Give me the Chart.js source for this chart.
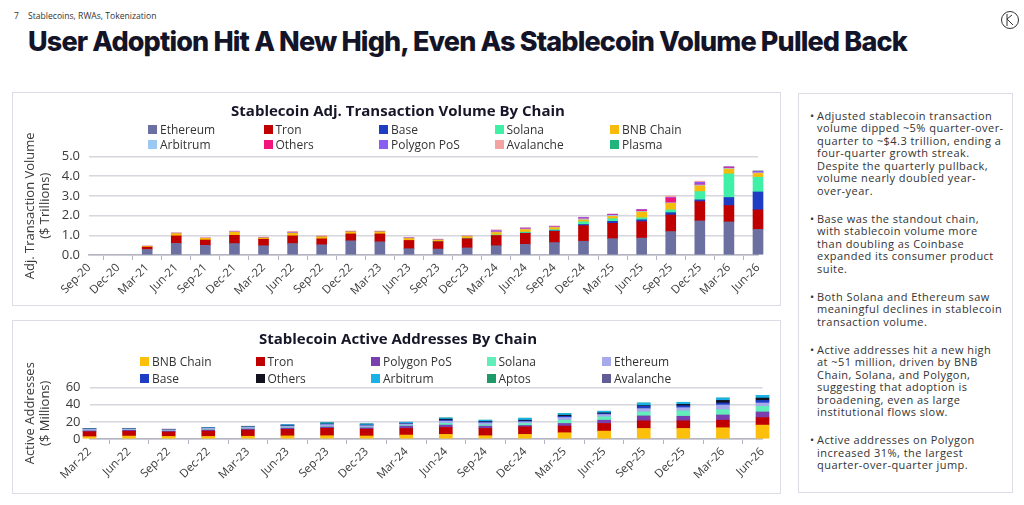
<!DOCTYPE html>
<html>
<head>
<meta charset="utf-8">
<script src="https://cdn.jsdelivr.net/npm/chart.js@4.4.1/dist/chart.umd.min.js"></script>
<style>
  html, body { margin: 0; padding: 0; background: #fff; }
  body { width: 1024px; height: 505px; position: relative; overflow: hidden; font-family: "Open Sans", sans-serif; color: #333; }
  .pagenum { position: absolute; left: 14px; top: 10px; font-size: 8.5px; color: #333; }
  .section { position: absolute; left: 28px; top: 10px; font-size: 8.6px; color: #333; }
  .logo { position: absolute; left: 1000px; top: 10px; }
  h1 { position: absolute; left: 28px; top: 25px; margin: 0; font-family: Inter, sans-serif; font-weight: 800; font-size: 27px; letter-spacing: -0.85px; color: #141428; white-space: nowrap; }
  .panel { position: absolute; border: 1.5px solid #dcdce6; box-sizing: border-box; }
  .ctitle { position: absolute; width: 500px; margin-left: -250px; left: 398px; text-align: center; font-size: 15px; line-height: 18px; font-weight: bold; color: #161628; }
  .legend { position: absolute; display: grid; grid-template-columns: repeat(5, 115.5px); font-size: 12px; color: #333; }
  .legend div { display: flex; align-items: center; height: 15px; white-space: nowrap; }
  .legend span.box { width: 9px; height: 9px; margin-right: 3px; display: inline-block; }
  .notes { position: absolute; left: 798px; top: 93px; width: 215px; height: 400px; box-sizing: border-box; border: 1.5px solid #dcdce6; }
  .notes ul { list-style: none; margin: 0; padding: 0; position: absolute; top: 15.5px; left: 18px; width: 192px; font-size: 11px; letter-spacing: 0.45px; line-height: 12.5px; color: #333; white-space: nowrap; }
  .notes li { position: relative; margin-bottom: 15.5px; }
  .notes li::before { content: "\2022"; position: absolute; left: -7px; top: 0; }
  canvas { position: absolute; }
</style>
</head>
<body>
<div class="pagenum">7</div>
<div class="section">Stablecoins, RWAs, Tokenization</div>
<svg class="logo" width="20" height="20" viewBox="0 0 20 20">
  <circle cx="10" cy="10" r="8.5" fill="none" stroke="#333" stroke-width="1"/>
  <path d="M7 4 L7 16 M7 9 L12 5 M7 9 L13 15" fill="none" stroke="#333" stroke-width="1"/>
</svg>
<h1>User Adoption Hit A New High, Even As Stablecoin Volume Pulled Back</h1>

<div class="panel" style="left:12px;top:92px;width:769px;height:214px;"></div>
<canvas id="volChart" style="left:14px;top:94px;" width="765" height="210"></canvas>
<div class="ctitle" style="top:101px;">Stablecoin Adj. Transaction Volume By Chain</div>
<div class="legend" id="volLegend" style="left:148px;top:122px;"></div>

<div class="panel" style="left:12px;top:320px;width:769px;height:174px;"></div>
<canvas id="addrChart" style="left:14px;top:322px;" width="765" height="170"></canvas>
<div class="ctitle" style="top:329px;">Stablecoin Active Addresses By Chain</div>
<div class="legend" id="addrLegend" style="left:140px;top:354px;row-gap:2px;"></div>

<div class="notes">
  <ul>
    <li>Adjusted stablecoin transaction<br>volume dipped ~5% quarter-over-<br>quarter to ~$4.3 trillion, ending a<br>four-quarter growth streak.<br>Despite the quarterly pullback,<br>volume nearly doubled year-<br>over-year.</li>
    <li>Base was the standout chain,<br>with stablecoin volume more<br>than doubling as Coinbase<br>expanded its consumer product<br>suite.</li>
    <li>Both Solana and Ethereum saw<br>meaningful declines in stablecoin<br>transaction volume.</li>
    <li>Active addresses hit a new high<br>at ~51 million, driven by BNB<br>Chain, Solana, and Polygon,<br>suggesting that adoption is<br>broadening, even as large<br>institutional flows slow.</li>
    <li>Active addresses on Polygon<br>increased 31%, the largest<br>quarter-over-quarter jump.</li>
  </ul>
</div>

<script>
// quarterly adjusted transaction volume, $ trillions
const volLabels = ['Sep-20','Dec-20','Mar-21','Jun-21','Sep-21','Dec-21','Mar-22','Jun-22','Sep-22','Dec-22','Mar-23','Jun-23',
                   'Sep-23','Dec-23','Mar-24','Jun-24','Sep-24','Dec-24','Mar-25','Jun-25','Sep-25','Dec-25','Mar-26','Jun-26'];
const volEthereum = [0,0,0.28,0.59,0.49,0.58,0.47,0.58,0.52,0.72,0.67,0.32,0.30,0.36,0.47,0.54,0.63,0.70,0.83,0.86,1.19,1.73,1.68,1.30];
const volTron     = [0,0,0.12,0.38,0.27,0.42,0.33,0.39,0.30,0.35,0.40,0.42,0.38,0.47,0.52,0.56,0.57,0.79,0.78,0.83,0.84,0.98,0.83,0.99];
const volBase     = [0,0,0,0,0,0,0,0,0,0,0,0,0,0,0,0.01,0.03,0.06,0.10,0.10,0.12,0.09,0.41,0.91];
const volSolana   = [0,0,0,0,0,0,0,0,0,0,0,0,0.01,0.02,0.03,0.05,0.05,0.14,0.13,0.10,0.14,0.42,1.20,0.75];
const volBnb      = [0,0,0.04,0.12,0.09,0.15,0.07,0.14,0.11,0.11,0.11,0.10,0.07,0.09,0.12,0.13,0.11,0.09,0.12,0.29,0.33,0.29,0.24,0.19];
const volArbitrum = [0,0,0,0,0,0,0,0,0,0,0,0,0,0,0.03,0.03,0.03,0.06,0.05,0.04,0.03,0.05,0.04,0.04];
const volOthers   = [0,0,0,0,0,0,0,0,0,0,0,0,0,0,0.02,0.02,0.02,0.03,0.03,0.06,0.24,0.04,0.03,0.02];
const volPolygon  = [0,0,0.01,0.02,0.01,0.02,0.02,0.03,0.02,0.02,0.02,0.03,0.02,0.02,0.05,0.03,0.02,0.04,0.03,0.03,0.03,0.09,0.05,0.05];
const volAvalanche= [0,0,0.01,0.02,0.02,0.05,0.02,0.06,0.03,0.02,0.02,0.03,0.03,0.02,0.04,0.02,0.01,0.01,0.01,0.01,0.08,0.06,0.01,0.01];
const volPlasma   = [0,0,0,0,0,0,0,0,0,0,0,0,0,0,0,0,0,0,0,0,0,0,0,0.01];
const volTicks = [0, 1, 2, 3, 4, 5];

// quarterly active addresses, millions
const addrLabels = ['Mar-22','Jun-22','Sep-22','Dec-22','Mar-23','Jun-23','Sep-23','Dec-23','Mar-24',
                    'Jun-24','Sep-24','Dec-24','Mar-25','Jun-25','Sep-25','Dec-25','Mar-26','Jun-26'];
const addrBnb      = [2.7,3.4,3.0,3.0,3.2,3.6,3.8,3.5,4.6,5.4,3.8,5.4,7.3,9.2,12.3,12.3,13.1,16.2];
const addrTron     = [5.8,5.7,5.2,6.3,7.2,7.6,8.6,8.0,7.7,8.1,8.5,8.8,7.7,8.9,8.9,8.9,8.8,8.8];
const addrPolygon  = [1.0,1.0,0.9,1.1,1.2,1.4,1.6,1.5,2.7,2.7,2.7,1.6,3.1,3.8,5.7,5.3,6.1,6.5];
const addrSolana   = [0.3,0.3,0.3,0.4,0.4,0.5,0.6,0.6,0.8,2.0,1.4,2.2,3.8,3.9,4.6,6.2,6.2,6.5];
const addrEthereum = [1.7,1.4,1.4,1.7,1.9,1.9,2.2,1.9,1.7,2.6,2.4,2.0,3.1,2.7,3.9,3.8,5.4,4.0];
const addrBase     = [0,0,0,0,0,0.2,0.3,0.2,0.3,1.2,1.0,1.0,1.5,1.0,2.7,2.3,2.4,3.0];
const addrOthers   = [0.2,0.2,0.2,0.2,0.3,0.3,0.4,0.5,0.3,1.1,0.6,0.9,1.2,0.9,0.8,1.6,3.0,2.7];
const addrArbitrum = [0.3,0.3,0.3,0.4,0.5,1.2,1.3,1.2,1.2,1.4,1.5,2.3,1.9,1.9,3.0,2.3,2.7,3.1];
const addrAptos    = [0,0,0,0,0,0,0.1,0.1,0.1,0.1,0.1,0.1,0.1,0.1,0.1,0.1,0.1,0.1];
const addrAvalanche= [0.3,0.2,0.2,0.2,0.2,0.2,0.2,0.2,0.2,0,0,0,0,0,0,0,0,0];
const addrTicks = [0, 20, 40, 60];

const FONT = '"Open Sans", sans-serif';
const TXT = '#3a3a3a';

function ds(label, data, color, thickness) {
    // zero quarters are left empty so no hairline bar gets drawn
    return { label: label, data: data.map(v => v === 0 ? null : v), backgroundColor: color,
             borderWidth: 0, barThickness: thickness, clip: false };
}

function baseOptions(yTitle, yTicks, yStep, decimals, yWidth, xHeight, padTop, padRight) {
    return {
        responsive: false,
        animation: false,
        layout: { padding: { left: 8, right: padRight, top: padTop, bottom: 0 } },
        plugins: {
            legend: { display: false },
            tooltip: { enabled: false }
        },
        scales: {
            x: {
                stacked: true,
                offset: false,
                grid: { display: true, drawOnChartArea: false, drawTicks: true, tickLength: 5, color: '#b4b4c2', lineWidth: 1 },
                border: { display: true, color: '#b4b4c2', width: 1.5 },
                ticks: { autoSkip: false, maxRotation: 45, minRotation: 45, color: TXT, font: { family: FONT, size: 11.5 }, padding: 1 },
                afterFit: (s) => { s.height = xHeight; }
            },
            y: {
                stacked: true,
                min: yTicks[0], max: yTicks[yTicks.length - 1],
                grid: { color: '#d6d6de', lineWidth: 1.5, drawTicks: false },
                border: { display: false },
                ticks: {
                    stepSize: yStep, autoSkip: false, color: TXT, padding: 9,
                    font: { family: FONT, size: 13 },
                    callback: (v) => v.toFixed(decimals)
                },
                title: { display: true, text: yTitle, color: TXT, font: { family: FONT, size: 13 }, padding: { top: 0, bottom: 2 } },
                afterFit: (s) => { s.width = yWidth; }
            }
        }
    };
}

function buildLegend(chart, id) {
    const el = document.getElementById(id);
    const items = chart.options.plugins.legend.labels.generateLabels(chart);
    items.forEach(it => {
        const d = document.createElement('div');
        const b = document.createElement('span');
        b.className = 'box';
        b.style.background = it.fillStyle;
        d.appendChild(b);
        d.appendChild(document.createTextNode(it.text));
        el.appendChild(d);
    });
}

const volChart = new Chart(document.getElementById('volChart'), {
    type: 'bar',
    data: {
        labels: volLabels,
        datasets: [
            ds('Ethereum', volEthereum, '#6c70a0', 10),
            ds('Tron', volTron, '#c00000', 10),
            ds('Base', volBase, '#1f3cc4', 10),
            ds('Solana', volSolana, '#3ff0a6', 10),
            ds('BNB Chain', volBnb, '#f7bb0c', 10),
            ds('Arbitrum', volArbitrum, '#9cc9f2', 10),
            ds('Others', volOthers, '#f0147c', 10),
            ds('Polygon PoS', volPolygon, '#8b5cf2', 10),
            ds('Avalanche', volAvalanche, '#f4a2a2', 10),
            ds('Plasma', volPlasma, '#1fb57c', 10)
        ]
    },
    options: baseOptions(['Adj. Transaction Volume', '($ Trillions)'], volTicks, 1, 1, 67, 49, 62.5, 21)
});
buildLegend(volChart, 'volLegend');

const addrChart = new Chart(document.getElementById('addrChart'), {
    type: 'bar',
    data: {
        labels: addrLabels,
        datasets: [
            ds('BNB Chain', addrBnb, '#fcc00c', 13),
            ds('Tron', addrTron, '#c00000', 13),
            ds('Polygon PoS', addrPolygon, '#7a3fae', 13),
            ds('Solana', addrSolana, '#62eebb', 13),
            ds('Ethereum', addrEthereum, '#a6aaea', 13),
            ds('Base', addrBase, '#1f3cc4', 13),
            ds('Others', addrOthers, '#12121e', 13),
            ds('Arbitrum', addrArbitrum, '#1ab2e6', 13),
            ds('Aptos', addrAptos, '#1e9a68', 13),
            ds('Avalanche', addrAvalanche, '#5f5c96', 13)
        ]
    },
    options: baseOptions(['Active Addresses', '($ Millions)'], addrTicks, 20, 0, 67.5, 53, 65.5, 16.5)
});
buildLegend(addrChart, 'addrLegend');
</script>
</body>
</html>
